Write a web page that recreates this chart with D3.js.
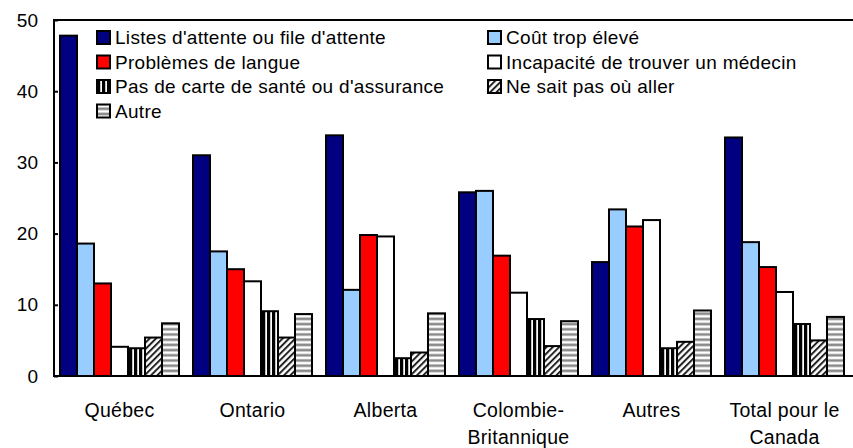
<!DOCTYPE html>
<html>
  <head>
    <meta charset="utf-8">
    <title>Raisons</title>
    <script src="https://d3js.org/d3.v7.min.js"></script>
    <style>
      body { margin: 0; background: #fff; }
      text { font-family: "Liberation Sans", Arial, Helvetica, sans-serif; }
    </style>
  </head>
  <body>
    <svg id="grafico"></svg>
    <script>
      // categories (x axis)
      var regions = ["Québec", "Ontario", "Alberta", "Colombie-Britannique", "Autres", "Total pour le Canada"];
      var regionLines = [["Québec"], ["Ontario"], ["Alberta"], ["Colombie-", "Britannique"], ["Autres"], ["Total pour le", "Canada"]];

      // series names
      var series = [
        "Listes d'attente ou file d'attente",
        "Coût trop élevé",
        "Problèmes de langue",
        "Incapacité de trouver un médecin",
        "Pas de carte de santé ou d'assurance",
        "Ne sait pas où aller",
        "Autre"
      ];

      // values per series, in region order
      var listes     = [47.8, 31.0, 33.8, 25.8, 16.0, 33.5];
      var cout       = [18.6, 17.5, 12.1, 26.0, 23.4, 18.8];
      var langue     = [13.0, 15.0, 19.8, 16.9, 21.0, 15.3];
      var medecin    = [4.1, 13.3, 19.6, 11.7, 21.9, 11.8];
      var carte      = [3.9, 9.1, 2.5, 8.0, 3.9, 7.3];
      var nesaitpas  = [5.4, 5.4, 3.3, 4.2, 4.8, 5.0];
      var autre      = [7.4, 8.7, 8.8, 7.7, 9.2, 8.3];
      var valeurs = [listes, cout, langue, medecin, carte, nesaitpas, autre];

      var yTicks = [0, 10, 20, 30, 40, 50];

      var fills = ["#000080", "#99ccff", "#ff0000", "#ffffff", "url(#pVert)", "url(#pDiag)", "url(#pHoriz)"];

      var W = 853, H = 448;
      var gauche = 54, droite = 852, haut = 20, bas = 376;

      var svg = d3.select("#grafico").attr("width", W).attr("height", H);

      // patterns
      var defs = svg.append("defs");
      var pv = defs.append("pattern").attr("id", "pVert").attr("patternUnits", "userSpaceOnUse")
        .attr("width", 5).attr("height", 5);
      pv.append("rect").attr("width", 5).attr("height", 5).attr("fill", "#fff");
      pv.append("rect").attr("width", 3).attr("height", 5).attr("fill", "#000");
      pv.append("rect").attr("x", 3).attr("width", 0.6).attr("height", 5).attr("fill", "#999");

      var pd = defs.append("pattern").attr("id", "pDiag").attr("patternUnits", "userSpaceOnUse")
        .attr("width", 4.5).attr("height", 4.5).attr("patternTransform", "rotate(45)");
      pd.append("rect").attr("width", 4.5).attr("height", 4.5).attr("fill", "#fff");
      pd.append("rect").attr("width", 2).attr("height", 4.5).attr("fill", "#222");

      var ph = defs.append("pattern").attr("id", "pHoriz").attr("patternUnits", "userSpaceOnUse")
        .attr("width", 5).attr("height", 5.2);
      ph.append("rect").attr("width", 5).attr("height", 5.2).attr("fill", "#fff");
      ph.append("rect").attr("y", 0.4).attr("width", 5).attr("height", 2.6).attr("fill", "#8a8a8a");

      var x0 = d3.scaleBand().domain(regions).range([gauche, droite]);
      var x1 = d3.scaleBand().domain(series).range([6, 6 + 119]);
      var y = d3.scaleLinear().domain([0, 50]).range([bas, haut]);

      // bars
      var groupes = svg.selectAll("g.groupe")
        .data(regions)
        .enter().append("g")
        .attr("class", "groupe")
        .attr("transform", function(d) { return "translate(" + x0(d) + ",0)"; });

      groupes.selectAll("rect")
        .data(function(d, i) {
          return series.map(function(s, j) { return {serie: s, j: j, v: valeurs[j][i]}; });
        })
        .enter().append("rect")
        .attr("x", function(d) { return x1(d.serie); })
        .attr("y", function(d) { return y(d.v); })
        .attr("width", x1.bandwidth())
        .attr("height", function(d) { return y(0) - y(d.v); })
        .attr("fill", function(d) { return fills[d.j]; })
        .attr("stroke", "#000")
        .attr("stroke-width", 2);

      // frame: top line, left axis, bottom axis
      svg.append("line").attr("x1", gauche).attr("x2", W).attr("y1", haut).attr("y2", haut)
        .attr("stroke", "#000").attr("stroke-width", 2);
      svg.append("line").attr("x1", gauche).attr("x2", W).attr("y1", bas).attr("y2", bas)
        .attr("stroke", "#000").attr("stroke-width", 2);

      var ejeY = d3.axisLeft(y).tickValues(yTicks).tickSize(-4).tickPadding(16);
      var gy = svg.append("g").attr("transform", "translate(" + gauche + ",0)").call(ejeY);
      gy.attr("font-family", null);
      gy.select(".domain").attr("stroke-width", 2).attr("d", "M0," + (haut - 1) + "V" + (bas + 1));
      gy.selectAll(".tick line").attr("stroke-width", 2);
      gy.selectAll(".tick text")
        .attr("font-size", 19)
        .attr("fill", "#000");

      // category labels
      var etiquettes = svg.selectAll("text.cat")
        .data(regions)
        .enter().append("text")
        .attr("class", "cat")
        .attr("x", function(d) { return x0(d) + 6 + 59.5; })
        .attr("y", 417)
        .attr("text-anchor", "middle")
        .attr("font-size", 19.5)
        .attr("letter-spacing", 0.3)
        .attr("fill", "#000");
      etiquettes.each(function(d, i) {
        var t = d3.select(this);
        regionLines[i].forEach(function(l, k) {
          t.append("tspan").attr("x", x0(d) + 6 + 59.5).attr("dy", k === 0 ? 0 : 27).text(l);
        });
      });

      // legend, two columns filled row by row
      var leg = svg.selectAll("g.leg")
        .data(series)
        .enter().append("g")
        .attr("class", "leg")
        .attr("transform", function(d, i) {
          var col = i % 2, row = Math.floor(i / 2);
          return "translate(" + (col === 0 ? 97 : 488) + "," + (44 + row * 24.5) + ")";
        });
      leg.append("rect")
        .attr("y", -13)
        .attr("width", 13).attr("height", 13)
        .attr("fill", function(d, i) { return fills[i]; })
        .attr("stroke", "#000").attr("stroke-width", 2);
      leg.append("text")
        .attr("x", 18).attr("y", 0)
        .attr("font-size", 19)
        .attr("letter-spacing", 0.3)
        .attr("fill", "#000")
        .text(function(d) { return d; });
    </script>
  </body>
</html>
